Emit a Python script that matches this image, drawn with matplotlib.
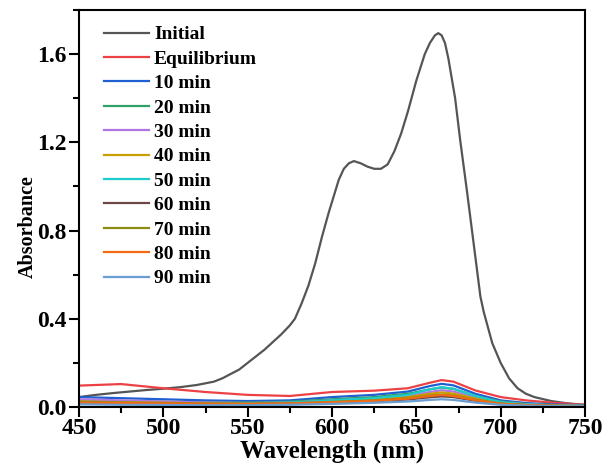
import matplotlib
matplotlib.use("Agg")
import matplotlib.pyplot as plt
from matplotlib.ticker import MultipleLocator, FormatStrFormatter

plt.rcParams["font.family"] = ["Liberation Serif", "DejaVu Serif"]
plt.rcParams["font.weight"] = "bold"

# Initial dye spectrum
wl_init = [450, 460, 470, 480, 490, 500, 510, 520, 530, 535, 540, 545, 550, 560,
           570, 575, 578, 582, 586, 590, 594, 598, 601, 604, 607, 610, 613, 617,
           621, 625, 629, 633, 637, 641, 645, 650, 655, 658, 661, 663, 665, 667,
           669, 671, 673, 676, 680, 683, 686, 688, 690, 695, 700, 705, 710, 715,
           720, 730, 740, 750]
abs_init = [0.045, 0.055, 0.063, 0.070, 0.077, 0.083, 0.090, 0.100, 0.115, 0.130,
            0.150, 0.170, 0.200, 0.260, 0.330, 0.370, 0.400, 0.470, 0.550, 0.650,
            0.770, 0.880, 0.955, 1.030, 1.080, 1.105, 1.115, 1.105, 1.090, 1.080,
            1.080, 1.100, 1.160, 1.240, 1.340, 1.480, 1.600, 1.650, 1.685, 1.695,
            1.685, 1.650, 1.580, 1.490, 1.400, 1.210, 0.980, 0.800, 0.620, 0.500,
            0.430, 0.290, 0.200, 0.130, 0.085, 0.060, 0.045, 0.027, 0.016, 0.010]

# Spectra after adsorption / irradiation
wl = [450, 475, 500, 525, 550, 575, 600, 625, 645, 658, 665, 672, 685, 700, 715, 730, 750]
abs_eq = [0.097, 0.104, 0.085, 0.068, 0.055, 0.050, 0.068, 0.074, 0.085, 0.110, 0.122, 0.115, 0.075, 0.045, 0.030, 0.020, 0.010]
abs_10 = [0.045, 0.040, 0.035, 0.030, 0.027, 0.030, 0.045, 0.055, 0.070, 0.095, 0.105, 0.098, 0.060, 0.030, 0.018, 0.012, 0.008]
abs_20 = [0.030, 0.027, 0.024, 0.021, 0.020, 0.024, 0.035, 0.045, 0.060, 0.080, 0.088, 0.082, 0.050, 0.025, 0.014, 0.009, 0.006]
abs_30 = [0.035, 0.030, 0.025, 0.020, 0.018, 0.020, 0.030, 0.038, 0.050, 0.068, 0.076, 0.070, 0.042, 0.020, 0.012, 0.008, 0.005]
abs_40 = [0.025, 0.022, 0.019, 0.017, 0.016, 0.018, 0.026, 0.034, 0.045, 0.060, 0.066, 0.061, 0.038, 0.018, 0.010, 0.007, 0.004]
abs_50 = [0.020, 0.018, 0.017, 0.016, 0.016, 0.020, 0.030, 0.040, 0.055, 0.080, 0.090, 0.083, 0.050, 0.022, 0.012, 0.008, 0.005]
abs_60 = [0.020, 0.018, 0.016, 0.014, 0.013, 0.015, 0.020, 0.026, 0.034, 0.044, 0.048, 0.045, 0.028, 0.014, 0.008, 0.005, 0.003]
abs_70 = [0.022, 0.020, 0.018, 0.016, 0.015, 0.017, 0.023, 0.030, 0.040, 0.052, 0.056, 0.052, 0.033, 0.016, 0.009, 0.006, 0.004]
abs_80 = [0.020, 0.018, 0.016, 0.015, 0.014, 0.016, 0.022, 0.028, 0.038, 0.050, 0.055, 0.050, 0.031, 0.015, 0.009, 0.006, 0.004]
abs_90 = [0.012, 0.010, 0.009, 0.008, 0.008, 0.010, 0.014, 0.019, 0.025, 0.032, 0.035, 0.032, 0.020, 0.010, 0.006, 0.004, 0.003]

labels = ["Equilibrium", "10 min", "20 min", "30 min", "40 min", "50 min",
          "60 min", "70 min", "80 min", "90 min"]
series = [abs_eq, abs_10, abs_20, abs_30, abs_40, abs_50, abs_60, abs_70, abs_80, abs_90]
colors = ["#ec4245", "#1f5fd2", "#2fa066", "#b276e2", "#c9a000", "#1ccccc",
          "#6e4747", "#8c8c14", "#f26a12", "#6a9dd2"]

fig = plt.figure(figsize=(6.06, 4.73), dpi=100)
ax = fig.add_axes([79 / 606, 66 / 473, 506 / 606, 397 / 473])

ax.plot(wl_init, abs_init, color="#555555", lw=1.6, label="Initial")
for y, lab, c in zip(series, labels, colors):
    ax.plot(wl, y, color=c, lw=1.6, label=lab)

ax.set_xlim(450, 750)
ax.set_ylim(0, 1.8)
ax.xaxis.set_major_locator(MultipleLocator(50))
ax.xaxis.set_minor_locator(MultipleLocator(25))
ax.yaxis.set_major_locator(MultipleLocator(0.4))
ax.yaxis.set_minor_locator(MultipleLocator(0.2))
ax.yaxis.set_major_formatter(FormatStrFormatter("%.1f"))

for s in ax.spines.values():
    s.set_linewidth(1.5)
ax.tick_params(which="major", direction="out", length=7, width=1.5, labelsize=17, pad=2)
ax.tick_params(which="minor", direction="out", length=4, width=1.5)
ax.tick_params(top=False, right=False, which="both")
ax.tick_params(axis="x", which="major", pad=1)

ax.set_xlabel("Wavelength (nm)", fontsize=18, fontweight="bold", labelpad=0)
ax.set_ylabel("Absorbance", fontsize=14.5, fontweight="bold")
ax.yaxis.set_label_coords(-0.082, 0.455)

ax.legend(loc="upper left", frameon=False, fontsize=14, handlelength=2.3,
          handletextpad=0.25, labelspacing=0.35, borderaxespad=0.0,
          bbox_to_anchor=(0.035, 0.98))

fig.savefig("out.png", dpi=100)
